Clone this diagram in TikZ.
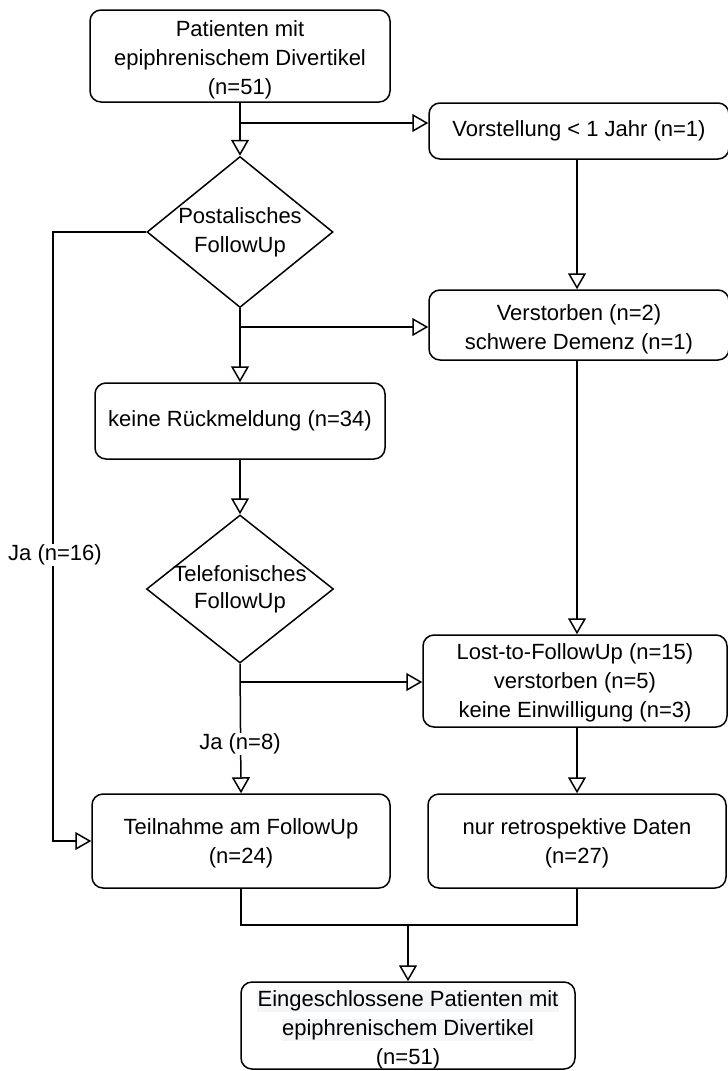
\documentclass[tikz,border=0pt]{standalone}
\usepackage{fontspec}
\setmainfont{Liberation Sans}
\usetikzlibrary{arrows.meta,shapes.geometric}
\definecolor{hl}{RGB}{243,245,247}
\begin{document}
\begin{tikzpicture}[x=1pt,y=-1pt,
  every node/.style={font=\fontsize{22}{29}\selectfont},
  box/.style={draw, rounded corners=11pt, line width=1.5pt, align=center, inner sep=0pt},
  txt/.style={align=center, inner sep=0pt, font=\fontsize{22}{29}\selectfont},
  dia/.style={draw, diamond, line width=1.5pt, inner sep=0pt, aspect=1},
  link/.style={line width=1.5pt},
  arr/.style={line width=1.5pt, -{Triangle[length=16pt,width=18pt,fill=white]}},
  lbl/.style={fill=white, inner sep=1pt}]
\useasboundingbox (0,0) rectangle (728,1071);
\clip (0,0) rectangle (728,1071);

% boxes
\node[box, minimum width=300pt, minimum height=92pt,
  label={[txt, yshift=-4pt]center:Patienten mit\\epiphrenischem Divertikel\\(n=51)}]
  (start) at (240,56) {};
\node[box, minimum width=300pt, minimum height=56pt] (early) at (579,131)
  {Vorstellung < 1 Jahr (n=1)};
\node[box, minimum width=300pt, minimum height=70pt,
  label={[txt, yshift=-4pt]center:Verstorben (n=2)\\schwere Demenz (n=1)}]
  (dead) at (579,325) {};
\node[box, minimum width=290pt, minimum height=76pt] (noresp) at (240,421)
  {keine Rückmeldung (n=34)};
\node[box, minimum width=304pt, minimum height=92pt,
  label={[txt, yshift=-2pt]center:Lost-to-FollowUp (n=15)\\verstorben (n=5)\\keine Einwilligung (n=3)}]
  (lost) at (575,681) {};
\node[box, minimum width=298pt, minimum height=94pt,
  label={[txt, yshift=-2pt]center:Teilnahme am FollowUp\\(n=24)}]
  (part) at (241,841) {};
\node[box, minimum width=298pt, minimum height=94pt,
  label={[txt, yshift=-2pt]center:nur retrospektive Daten\\(n=27)}]
  (retro) at (577,841) {};
\node[box, minimum width=334pt, minimum height=87pt,
  label={[txt, yshift=-4pt]center:{\setlength{\fboxsep}{0.5pt}\colorbox{hl}{Eingeschlossene Patienten mit}}\\
   {\setlength{\fboxsep}{0.5pt}\colorbox{hl}{epiphrenischem Divertikel}}\\(n=51)}]
  (final) at (408,1025.5) {};

% decisions
\node[dia, minimum width=186pt, minimum height=151pt,
  label={[txt]center:Postalisches\\FollowUp}]
  (post) at (240,232) {};
\node[dia, minimum width=187pt, minimum height=148pt,
  label={[txt, font=\fontsize{22}{27}\selectfont]center:Telefonisches\\FollowUp}]
  (tel) at (240,589) {};

% junction points
\coordinate (j1) at (240,123);
\coordinate (j2) at (240,327);
\coordinate (j3) at (240,682);
\coordinate (j4) at (53,232);
\coordinate (j5) at (241,925);
\coordinate (j6) at (408,925);

% connectors
\draw[arr] (start.south) -- (post.north);
\draw[arr] (j1) -- (j1 -| early.west);
\draw[arr] (early.south -| 577,0) -- (dead.north -| 577,0);
\draw[arr] (post.south) -- (noresp.north);
\draw[arr] (j2) -- (j2 -| dead.west);
\draw[arr] (noresp.south) -- (tel.north);
\draw[arr] (tel.south) -- (part.north);
\draw[arr] (j3) -- (j3 -| lost.west);
\draw[arr] (dead.south -| 577,0) -- (lost.north -| 577,0);
\draw[arr] (lost.south -| 577,0) -- (retro.north);
\draw[arr] (post.west) -- (j4) |- (part.west);
\draw[link] (part.south) -- (j5) -| (retro.south);
\draw[arr] (j6) -- (final.north);

% branch labels
\node[lbl] (yes16) at (55,555) {Ja (n=16)};
\node[lbl] (yes8) at (240,744) {Ja (n=8)};
\end{tikzpicture}
\end{document}
